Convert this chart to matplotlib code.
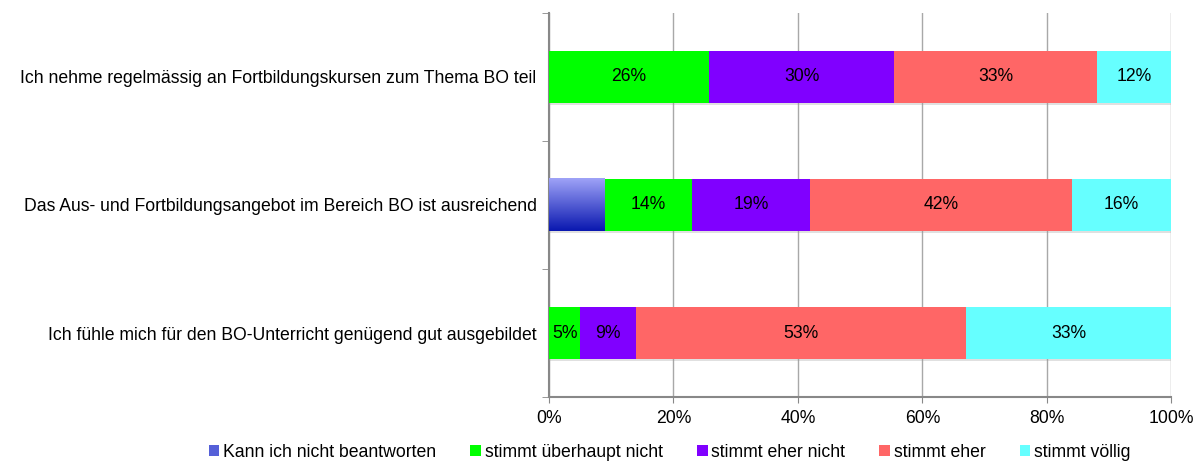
import numpy as np
import matplotlib
matplotlib.use('Agg')
import matplotlib.pyplot as plt
from matplotlib.patches import Patch
import matplotlib.patheffects as pe
from matplotlib.ticker import PercentFormatter

plt.rcParams['font.family'] = ['Liberation Sans', 'DejaVu Sans']

# statements, bottom to top
statements = [
    'Ich fühle mich für den BO-Unterricht genügend gut ausgebildet',
    'Das Aus- und Fortbildungsangebot im Bereich BO ist ausreichend',
    'Ich nehme regelmässig an Fortbildungskursen zum Thema BO teil',
]
answers = ['Kann ich nicht beantworten', 'stimmt überhaupt nicht',
           'stimmt eher nicht', 'stimmt eher', 'stimmt völlig']
colors = [None, '#00ff00', '#8000ff', '#ff6666', '#66ffff']

# percent per answer (rows follow statements)
kann_nicht = [0, 9, 0]
ueberhaupt_nicht = [5, 14, 26]
eher_nicht = [9, 19, 30]
eher = [53, 42, 33]
voellig = [33, 16, 12]

data = np.array([kann_nicht, ueberhaupt_nicht, eher_nicht, eher, voellig], dtype=float)
shares = data / data.sum(axis=0) * 100

fs = 12.7

fig = plt.figure(figsize=(12, 4.63), dpi=100)
ax = fig.add_axes([0.4575, 0.1425, 0.5185, 0.8295])

y = np.arange(len(statements))
h = 0.41
left = np.zeros(len(statements))
shadow = [pe.SimplePatchShadow(offset=(0, -1.5), shadow_rgbFace='#999999', alpha=0.3), pe.Normal()]

# gradient fill for "Kann ich nicht beantworten"
grad = np.linspace(0, 1, 64).reshape(-1, 1)
cmap = matplotlib.colors.LinearSegmentedColormap.from_list('bo', ['#9ea2f7', '#0a18b0'])

for k, name in enumerate(answers):
    vals = shares[k]
    if colors[k] is None:
        bars = ax.barh(y, vals, left=left, height=h, color='#5560d8', zorder=3,
                       path_effects=shadow)
        for b, v in zip(bars, vals):
            if v > 0:
                x0, y0 = b.get_x(), b.get_y()
                ax.imshow(grad, cmap=cmap, aspect='auto', origin='upper', zorder=4,
                          extent=[x0, x0 + b.get_width(), y0, y0 + b.get_height()])
    else:
        bars = ax.barh(y, vals, left=left, height=h, color=colors[k], zorder=3,
                       path_effects=shadow)
        for b, v, lab in zip(bars, vals, data[k]):
            if lab > 0:
                ax.text(b.get_x() + b.get_width() / 2, b.get_y() + h / 2,
                        f'{lab:.0f}%', ha='center', va='center', fontsize=fs, zorder=5)
    left += vals

ax.set_xlim(0, 100)
ax.set_ylim(-0.5, 2.5)
ax.xaxis.set_major_formatter(PercentFormatter(decimals=0))
ax.set_xticks(np.arange(0, 101, 20))
ax.grid(axis='x', color='#a8a8a8', linewidth=1, zorder=0)
ax.set_axisbelow(True)

ax.set_yticks(y, statements, fontsize=fs)
ax.set_yticks([-0.5, 0.5, 1.5, 2.5], minor=True)
ax.tick_params(axis='y', which='major', length=0, pad=9)
ax.tick_params(axis='y', which='minor', length=5, color='#888888')
ax.tick_params(axis='x', length=4, color='#888888', labelsize=fs, pad=5)

for s in ['top', 'right']:
    ax.spines[s].set_visible(False)
for s in ['left', 'bottom']:
    ax.spines[s].set_color('#888888')
    ax.spines[s].set_linewidth(1.5)

handles = [Patch(facecolor=c if c else '#5560d8', edgecolor='none') for c in colors]
fig.legend(handles, answers, loc='lower center', bbox_to_anchor=(0.558, -0.03), ncol=5,
           frameon=False, fontsize=fs, handlelength=0.6, handleheight=0.6,
           handletextpad=0.2, columnspacing=1.95)

fig.savefig('out.png', dpi=100)
